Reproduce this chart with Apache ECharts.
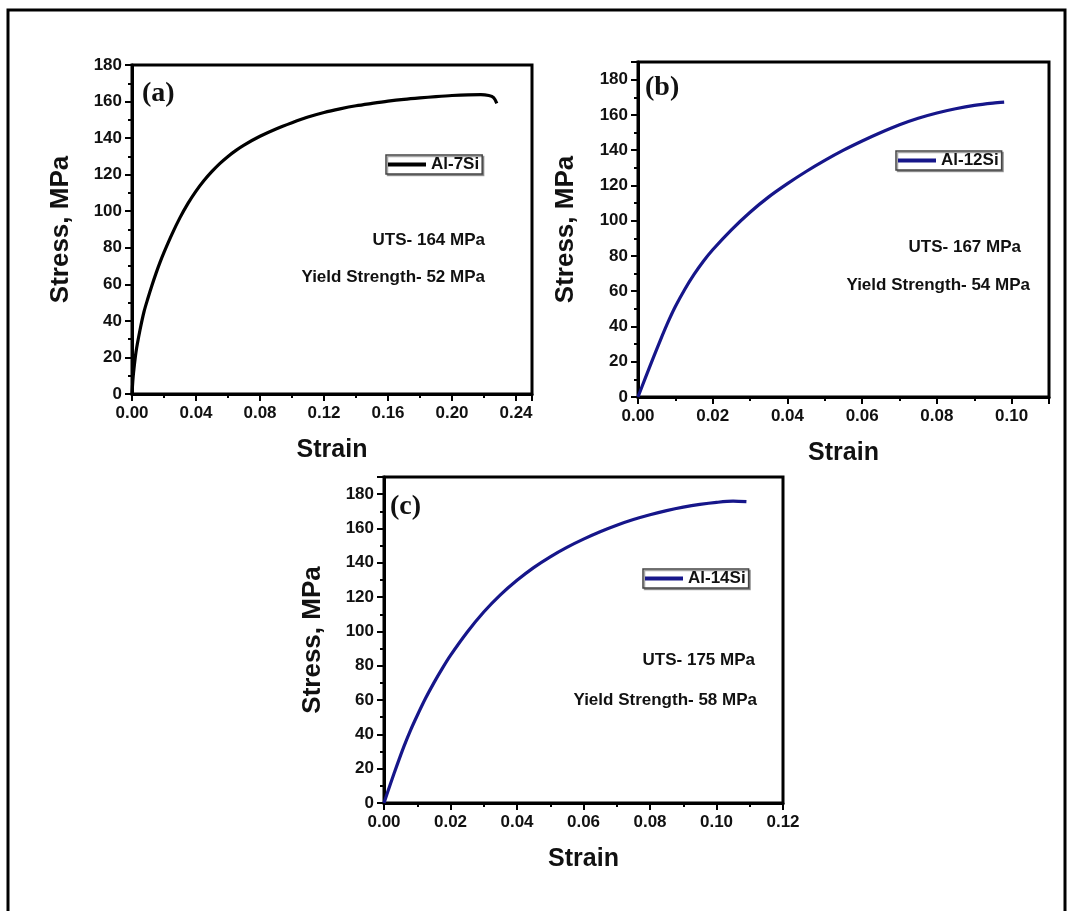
<!DOCTYPE html>
<html>
<head>
<meta charset="utf-8">
<script src="https://cdn.jsdelivr.net/npm/echarts@6/dist/echarts.min.js"></script>
<style>
  html, body { margin: 0; padding: 0; background: #fff; }
  #chart { width: 1073px; height: 911px; }
</style>
</head>
<body>
<div id="chart"></div>
<script>
// ---- Data (strain, stress MPa) ----
const seriesNames = ['Al-7Si', 'Al-12Si', 'Al-14Si'];
const panelLabels = ['(a)', '(b)', '(c)'];
const utsLabels = ['UTS- 164 MPa', 'UTS- 167 MPa', 'UTS- 175 MPa'];
const yieldLabels = ['Yield Strength- 52 MPa', 'Yield Strength- 54 MPa', 'Yield Strength- 58 MPa'];

const al7Si = [
  [0,0],[0.0005,7],[0.001,12],[0.0025,23],[0.005,35],[0.0075,45],[0.010,52.5],[0.0125,59.5],
  [0.015,66],[0.0175,72],[0.020,77.5],[0.025,87.5],[0.030,96.5],[0.035,104.3],[0.040,111],
  [0.045,116.8],[0.050,121.8],[0.055,126.2],[0.060,130],[0.065,133.3],[0.070,136.2],
  [0.080,141],[0.090,145],[0.100,148.4],[0.110,151.5],[0.120,154],[0.130,156],
  [0.140,157.7],[0.150,159],[0.160,160.2],[0.170,161.2],[0.180,162],[0.190,162.7],
  [0.200,163.3],[0.210,163.7],[0.218,163.8],[0.223,163.3],[0.226,162.2],[0.228,159]
];
const al12Si = [
  [0,0],[0.002,11],[0.004,21.8],[0.006,32.3],[0.008,42.3],[0.010,51.3],[0.0125,61],
  [0.015,69.5],[0.0175,77],[0.020,83.5],[0.025,94.8],[0.030,104.8],[0.035,113.5],
  [0.040,121],[0.045,127.9],[0.050,134.2],[0.055,140],[0.060,145.2],[0.065,150],
  [0.070,154.4],[0.075,158.1],[0.080,161.1],[0.085,163.5],[0.090,165.4],[0.095,166.7],
  [0.098,167.2]
];
const al14Si = [
  [0,0],[0.002,11.5],[0.004,22.5],[0.006,33],[0.008,42.5],[0.010,51],[0.0125,61],
  [0.015,70],[0.0175,78.3],[0.020,86],[0.025,99.5],[0.030,111.3],[0.035,121.3],
  [0.040,129.8],[0.045,137.2],[0.050,143.5],[0.055,149],[0.060,153.8],[0.065,158.1],
  [0.070,161.9],[0.075,165.2],[0.080,168],[0.085,170.4],[0.090,172.4],[0.095,174],
  [0.100,175.2],[0.105,175.9],[0.109,175.6]
];
const xMax = [0.25, 0.11, 0.12];
const xInterval = [0.04, 0.02, 0.02];
const yMax = [180, 190, 190];
const yInterval = 20;

// ---- Layout / style ----
const FONT = 'Arial, "Liberation Sans", sans-serif';
const grids = [
  { left: 132, top: 65, width: 400, height: 329 },
  { left: 638, top: 62, width: 411, height: 335 },
  { left: 384, top: 477, width: 399, height: 326 }
];
const colors = ['#000000', '#16168a', '#16168a'];
const datas = [al7Si, al12Si, al14Si];

const axisCommon = {
  axisLine: { show: true, onZero: false, lineStyle: { color: '#000', width: 3 } },
  axisTick: { show: true, inside: false, length: 7, lineStyle: { color: '#000', width: 2 } },
  minorTick: { show: true, splitNumber: 2, length: 4, lineStyle: { color: '#000', width: 2 } },
  splitLine: { show: false },
  nameTextStyle: { fontFamily: FONT, fontWeight: 'bold', fontSize: 25, color: '#111' }
};

const xAxes = grids.map((g, i) => Object.assign({}, axisCommon, {
  type: 'value', gridIndex: i, min: 0, max: xMax[i], interval: xInterval[i],
  name: 'Strain', nameLocation: 'middle', nameGap: 44,
  axisLabel: {
    fontFamily: FONT, fontWeight: 'bold', fontSize: 17, color: '#111', margin: 11,
    showMaxLabel: i === 2, showMinLabel: true,
    formatter: v => v.toFixed(2)
  }
}));
const yAxes = grids.map((g, i) => Object.assign({}, axisCommon, {
  type: 'value', gridIndex: i, min: 0, max: yMax[i], interval: yInterval,
  name: 'Stress, MPa', nameLocation: 'middle', nameRotate: 90, nameGap: [58, 59, 58][i],
  nameTextStyle: { fontFamily: FONT, fontWeight: 'bold', fontSize: 26, color: '#111' },
  axisLabel: {
    fontFamily: FONT, fontWeight: 'bold', fontSize: 17, color: '#111', margin: 10,
    showMaxLabel: i === 0, showMinLabel: true,
    formatter: v => String(Math.round(v))
  }
}));

const series = datas.map((d, i) => ({
  type: 'line', name: seriesNames[i], xAxisIndex: i, yAxisIndex: i,
  data: d, smooth: 0.3, symbol: 'none', showSymbol: false,
  lineStyle: { color: colors[i], width: 3.2 }, itemStyle: { color: colors[i] },
  animation: false
}));

const legendPos = [
  { left: 386, top: 155 },
  { left: 896, top: 151 },
  { left: 643, top: 569 }
];
const legends = legendPos.map((p, i) => ({
  data: [seriesNames[i]], left: p.left, top: p.top, orient: 'horizontal',
  icon: 'rect', itemWidth: 38, itemHeight: 4, itemGap: 0, itemTextGap: 4,
  selectedMode: false, padding: [1, 3, 1, 2],
  borderColor: '#444', borderWidth: 1.5, backgroundColor: '#fff',
  shadowColor: 'rgba(0,0,0,0.35)', shadowOffsetX: 1.5, shadowOffsetY: 1.5, shadowBlur: 0,
  textStyle: { fontFamily: FONT, fontWeight: 'bold', fontSize: 17, color: '#111' }
}));

const panelPos = [[142, 80], [645, 74], [390, 493]];
const utsPos = [[485, 240], [1021, 247], [755, 660]];
const yieldPos = [[485, 277], [1030, 285], [757, 700]];

const graphics = [
  { type: 'rect', shape: { x: 8, y: 10, width: 1057, height: 915 },
    style: { fill: 'none', stroke: '#000', lineWidth: 3 }, z: 0, silent: true }
];
for (let i = 0; i < 3; i++) {
  graphics.push({ type: 'text', x: panelPos[i][0], y: panelPos[i][1], silent: true,
    style: { text: panelLabels[i], font: 'bold 28px "Liberation Serif", "Times New Roman", serif',
      fill: '#111', textAlign: 'left', textVerticalAlign: 'top' } });
  graphics.push({ type: 'text', x: utsPos[i][0], y: utsPos[i][1], silent: true,
    style: { text: utsLabels[i], font: 'bold 17px ' + FONT,
      fill: '#111', textAlign: 'right', textVerticalAlign: 'middle' } });
  graphics.push({ type: 'text', x: yieldPos[i][0], y: yieldPos[i][1], silent: true,
    style: { text: yieldLabels[i], font: 'bold 17px ' + FONT,
      fill: '#111', textAlign: 'right', textVerticalAlign: 'middle' } });
}

const option = {
  backgroundColor: '#fff',
  animation: false,
  grid: grids.map(g => Object.assign({ show: true, borderColor: '#000', borderWidth: 3,
    backgroundColor: 'transparent', containLabel: false }, g)),
  xAxis: xAxes,
  yAxis: yAxes,
  legend: legends,
  series: series,
  graphic: graphics
};

const chart = echarts.init(document.getElementById('chart'), null, { renderer: 'canvas' });
chart.setOption(option);
</script>
</body>
</html>
